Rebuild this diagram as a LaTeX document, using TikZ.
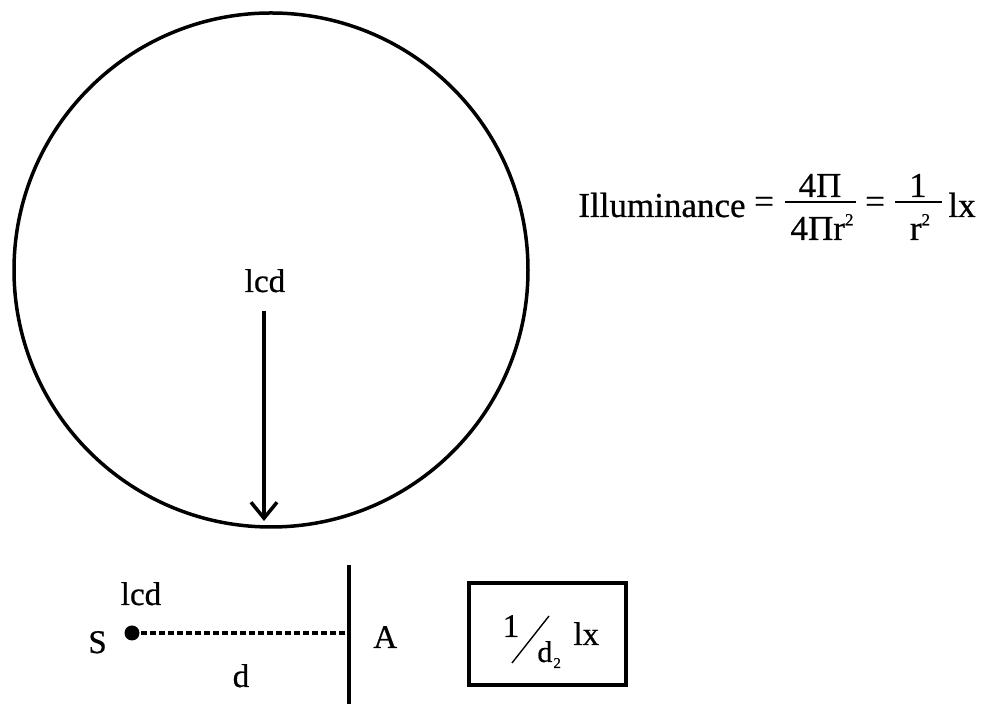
\documentclass[tikz,border=0pt]{standalone}
\usepackage{fontspec}
\setmainfont{Liberation Serif}[FakeBold=0.6]
\usetikzlibrary{arrows.meta}
\newcommand{\supii}{\raisebox{0.42em}{\fontsize{8.5}{8.5}\selectfont 2}}
\begin{document}
\begin{tikzpicture}[x=0.5pt,y=-0.5pt,
  lbl/.style={inner sep=0pt, font=\fontsize{16.5}{18}\selectfont},
  frm/.style={inner sep=0pt, font=\fontsize{17.5}{19}\selectfont},
  heavy/.style={line width=1.75pt},
  bar/.style={line width=0.9pt},
]
\useasboundingbox (0,0) rectangle (982,704);
% sphere
\node (sphere) [circle, draw, heavy, minimum size=257pt, inner sep=0pt] at (271,270) {};
\node (lcdtop) [lbl, anchor=base] at (265,292) {lcd};
\coordinate (src) at (264,311);
\coordinate (hit) at (264,521);
\draw[heavy, -{Straight Barb[length=8pt,width=13pt,line width=1.75pt]}] (src) -- (hit);
% formula
\node (ill) [frm, anchor=base west] at (578,217) {Illuminance};
\node (eq1) [frm] at (764,205) {=};
\node (num1) [frm, anchor=base] at (820,197) {4Π};
\node (den1) [frm, anchor=base] at (822,240) {4Πr\supii};
\coordinate (b1l) at (785,202);
\coordinate (b1r) at (856,202);
\draw[bar] (b1l) -- (b1r);
\node (eq2) [frm] at (875,205) {=};
\node (num2) [frm, anchor=base] at (918,197) {1};
\node (den2) [frm, anchor=base] at (920,240) {r\supii};
\coordinate (b2l) at (895,202);
\coordinate (b2r) at (942,202);
\draw[bar] (b2l) -- (b2r);
\node (lx1) [frm, anchor=base west] at (948,217) {lx};
% lower part
\node (S) [lbl, anchor=base west] at (88,653) {S};
\node (dot) [circle, fill, inner sep=0pt, minimum size=7.5pt] at (132,633) {};
\node (lcdlow) [lbl, anchor=base] at (141,605) {lcd};
\coordinate (foot) at (349,633);
\draw[line width=1.6pt, dash pattern=on 3pt off 1.5pt] (dot.center) -- (foot);
\coordinate (wtop) at (349,565);
\coordinate (wbot) at (349,704);
\draw[heavy] (wtop) -- (wbot);
\node (A) [lbl, anchor=base west] at (373,648) {A};
\node (d) [lbl, anchor=base] at (241,687) {d};
% result box
\node (box) [draw, line width=2pt, minimum width=78.5pt, minimum height=51pt, inner sep=0pt] at (547.5,634) {};
\node (one) [lbl, anchor=base] at (511,637) {1};
\coordinate (sl1) at (549,616);
\coordinate (sl2) at (512,663);
\draw[line width=0.7pt] (sl1) -- (sl2);
\node (dd) [inner sep=0pt, anchor=base west, font=\fontsize{15}{16}\selectfont] at (537,662) {d};
\node (two) [inner sep=0pt, anchor=base west, font=\fontsize{7.5}{8}\selectfont] at (553,668) {2};
\node (lx2) [lbl, anchor=base west] at (573,645) {lx};
\end{tikzpicture}
\end{document}
